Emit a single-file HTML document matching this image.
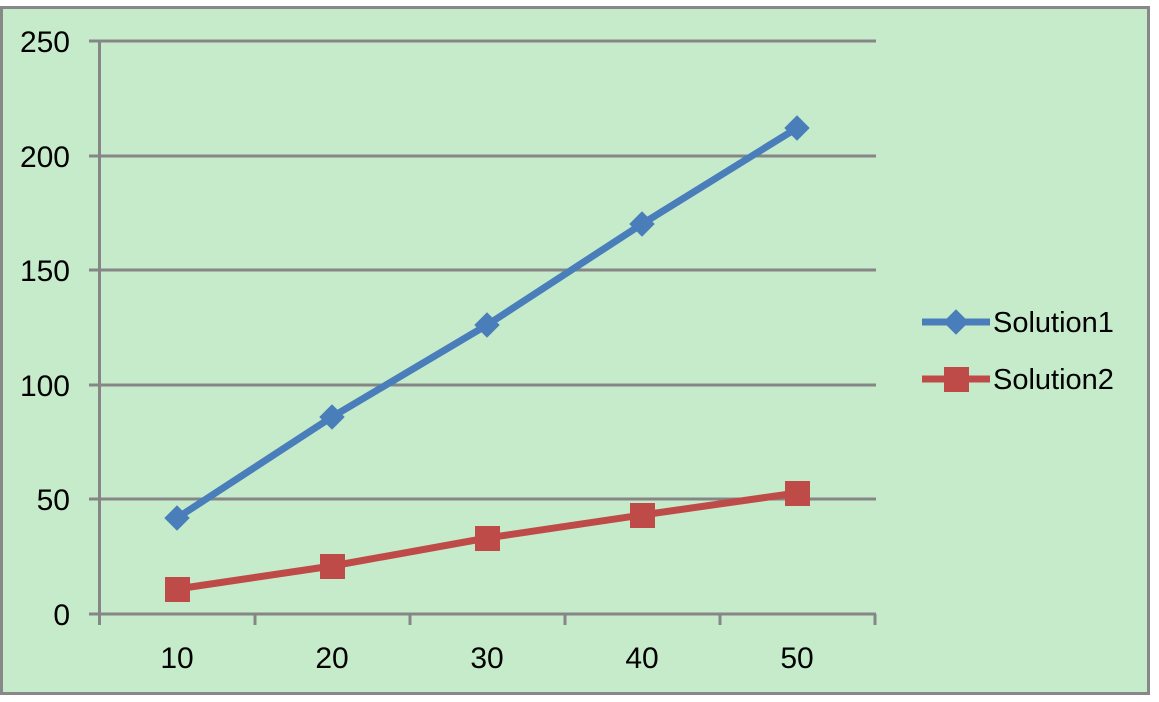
<!DOCTYPE html>
<html><head><style>body{margin:0;background:#fff}</style></head><body>
<svg width="1159" height="697" xmlns="http://www.w3.org/2000/svg" font-family="Liberation Sans, sans-serif">
<rect x="1.5" y="7.5" width="1147" height="686" fill="#c6ebcb" stroke="#888" stroke-width="3"/>
<g stroke="#868686" stroke-width="3">
<line x1="89" y1="41" x2="876" y2="41"/>
<line x1="89" y1="156" x2="876" y2="156"/>
<line x1="89" y1="270" x2="876" y2="270"/>
<line x1="89" y1="385" x2="876" y2="385"/>
<line x1="89" y1="499" x2="876" y2="499"/>
<line x1="89" y1="614" x2="876" y2="614"/>
<line x1="99.5" y1="41" x2="99.5" y2="625"/>
<line x1="255" y1="614" x2="255" y2="625"/>
<line x1="410" y1="614" x2="410" y2="625"/>
<line x1="565" y1="614" x2="565" y2="625"/>
<line x1="720" y1="614" x2="720" y2="625"/>
<line x1="875" y1="614" x2="875" y2="625"/>
</g>
<g font-size="30" fill="#000" text-anchor="end">
<text x="70" y="52">250</text><text x="70" y="167">200</text><text x="70" y="281">150</text>
<text x="70" y="396">100</text><text x="70" y="510">50</text><text x="70" y="625">0</text>
</g>
<g font-size="30" fill="#000" text-anchor="middle">
<text x="177" y="668">10</text><text x="332" y="668">20</text><text x="487" y="668">30</text><text x="642" y="668">40</text><text x="797" y="668">50</text>
</g>
<polyline points="177,518 332,417 487,325 642,224 797,128" fill="none" stroke="#4a7ebb" stroke-width="7"/>
<g fill="#4a7ebb">
<rect x="168" y="509" width="18" height="18" transform="rotate(45 177 518)"/>
<rect x="323" y="408" width="18" height="18" transform="rotate(45 332 417)"/>
<rect x="478" y="316" width="18" height="18" transform="rotate(45 487 325)"/>
<rect x="633" y="215" width="18" height="18" transform="rotate(45 642 224)"/>
<rect x="788" y="119" width="18" height="18" transform="rotate(45 797 128)"/>
</g>
<polyline points="177,589 332,566 487,538 642,515 797,493" fill="none" stroke="#be4b48" stroke-width="7"/>
<g fill="#be4b48">
<rect x="165" y="577" width="25" height="25"/>
<rect x="320" y="554" width="25" height="25"/>
<rect x="475" y="526" width="25" height="25"/>
<rect x="630" y="503" width="25" height="25"/>
<rect x="785" y="481" width="25" height="25"/>
</g>
<line x1="922" y1="322" x2="990" y2="322" stroke="#4a7ebb" stroke-width="7"/>
<rect x="947" y="313" width="18" height="18" fill="#4a7ebb" transform="rotate(45 956 322)"/>
<line x1="922" y1="379" x2="990" y2="379" stroke="#be4b48" stroke-width="7"/>
<rect x="944" y="367" width="25" height="25" fill="#be4b48"/>
<g font-size="29" fill="#000">
<text x="993" y="332">Solution1</text><text x="993" y="389">Solution2</text>
</g>
</svg>
</body></html>
